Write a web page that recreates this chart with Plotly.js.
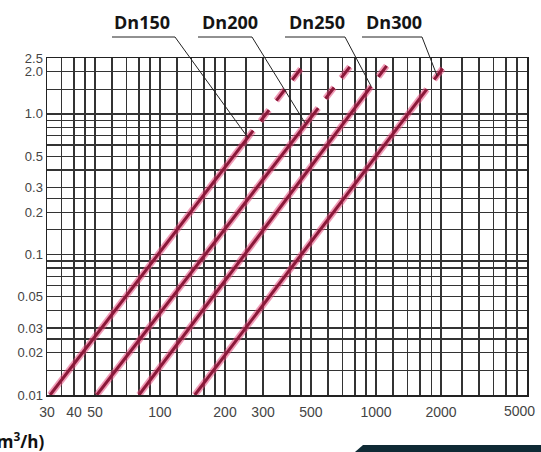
<!DOCTYPE html>
<html>
<head>
<meta charset="utf-8">
<script src="https://cdn.plot.ly/plotly-3.0.1.min.js"></script>
<style>html,body{margin:0;padding:0;background:#fff;}#chart{width:541px;height:452px;}</style>
</head>
<body>
<div id="chart"></div>
<script>
// ---- data ----
const seriesNames   = ['Dn150', 'Dn200', 'Dn250', 'Dn300'];
const flowStart     = [31, 51, 80, 145];          // m3/h at bottom (0.01)
const dpStart       = [0.01, 0.01, 0.01, 0.01];
const flowSolidEnd  = [270, 540, 950, 1720];      // end of solid part
const dpSolidEnd    = [0.76, 1.1, 1.57, 1.5];
const flowDashEnd   = [460, 780, 1120, 2080];     // end of dashed part
const dpDashEnd     = [2.2, 2.3, 2.2, 2.2];
const pointerFlow   = [255, 470, 950, 1920];      // where label leader meets line
const pointerDp     = [0.68, 0.86, 1.57, 1.86];

const xGrid = [30,35,40,45,50,60,70,80,90,100,120,140,160,180,200,250,300,400,450,500,
               600,700,800,900,1000,1200,1400,1600,1800,2000,2500,3000,3500,4000,4500,5000];
const xLabelVals = [30,40,50,100,200,300,500,1000,2000];
const xLabelText = ['30','40','50','100','200','300','500','1000','2000'];
const xEdgeLabelVal = 5000, xEdgeLabelText = '5000';   // drawn as annotation so it stays inside
const yGrid = [0.01,0.015,0.02,0.025,0.03,0.04,0.05,0.06,0.07,0.08,0.09,0.1,0.15,0.2,0.25,
               0.3,0.4,0.5,0.6,0.7,0.8,0.9,1,1.5,2,2.5];
const yLabelVals = [0.01,0.02,0.03,0.05,0.1,0.2,0.3,0.5,1,2,2.5];
const yLabelText = ['0.01','0.02','0.03','0.05','0.1','0.2','0.3','0.5','1.0','2.0','2.5'];

// ---- layout geometry ----
const M = {l:47, r:14, t:58, b:57};
const W = 541 - M.l - M.r, H = 452 - M.t - M.b;
const XR = [Math.log10(30), Math.log10(5000)];
const YR = [-2, Math.log10(2.5)];
const pX = p => (p - M.l) / W;            // pixel -> paper
const pY = p => (M.t + H - p) / H;
const dX = q => (Math.log10(q) - XR[0]) / (XR[1] - XR[0]);   // data -> paper (for leaders)
const dY = v => (Math.log10(v) - YR[0]) / (YR[1] - YR[0]);

const halo = 'rgba(228,72,122,0.55)';
const core = '#8c1839';
const dashPat = '0px,12px,14px,0px';
const traces = [];
seriesNames.forEach((n, i) => {
  const solidX = [flowStart[i], flowSolidEnd[i]], solidY = [dpStart[i], dpSolidEnd[i]];
  const dashX = [flowSolidEnd[i], flowDashEnd[i]], dashY = [dpSolidEnd[i], dpDashEnd[i]];
  traces.push({x: solidX, y: solidY, mode:'lines', name:n, line:{color:halo, width:6.5}, hoverinfo:'skip'});
  traces.push({x: dashX, y: dashY, mode:'lines', name:n, line:{color:halo, width:6.5, dash:dashPat}, hoverinfo:'skip'});
  traces.push({x: solidX, y: solidY, mode:'lines', name:n, line:{color:core, width:3}});
  traces.push({x: dashX, y: dashY, mode:'lines', name:n, line:{color:core, width:3, dash:dashPat}});
});

// label positions (pixels) and leader bends
const labelCx   = [142, 230, 317, 394];
const underL    = [112, 198, 285, 362];
const underR    = [175, 252, 345, 422];
const underY    = 37;

const tickFont = {family:'Liberation Sans Narrow, Liberation Sans, Arial, sans-serif', size:14, color:'#444'};
const annotations = seriesNames.map((n, i) => ({
  text: n, xref:'paper', yref:'paper', x: pX(labelCx[i]), y: pY(22),
  xanchor:'center', yanchor:'middle', showarrow:false,
  font:{family:'Open Sans, DejaVu Sans, sans-serif', size:18, color:'#151515', weight:700}
}));
annotations.push({
  text:'(m<sup>3</sup>/h)', xref:'paper', yref:'paper', x: pX(46), y: pY(440),
  xanchor:'right', yanchor:'middle', showarrow:false,
  font:{family:'Open Sans, DejaVu Sans, sans-serif', size:17, color:'#111', weight:700}
});
annotations.push({
  text: xEdgeLabelText, xref:'x', yref:'paper', x: Math.log10(xEdgeLabelVal), y: pY(401),
  xanchor:'center', yanchor:'top', xshift:-8, showarrow:false, font: tickFont
});

const shapes = seriesNames.map((n, i) => ({
  type:'path', xref:'paper', yref:'paper',
  path:`M ${pX(underL[i])},${pY(underY)} L ${pX(underR[i])},${pY(underY)} L ${dX(pointerFlow[i])},${dY(pointerDp[i])}`,
  line:{color:'#222', width:1}, layer:'above'
}));
shapes.push({
  type:'path', xref:'paper', yref:'paper',
  path:`M ${pX(355)},${pY(452)} L ${pX(363)},${pY(445)} L ${pX(541)},${pY(445)} L ${pX(541)},${pY(452)} Z`,
  fillcolor:'#0f2a35', line:{width:0}
});

const axisCommon = {
  type:'log', showgrid:true, gridcolor:'#333', gridwidth:1.3, zeroline:false,
  showline:true, mirror:true, linecolor:'#222', linewidth:1.5, ticks:'',
  tickmode:'array', fixedrange:true
};
const layout = {
  width:541, height:452, margin:{l:M.l, r:M.r, t:M.t, b:M.b, pad:0},
  paper_bgcolor:'#fff', plot_bgcolor:'#fff', showlegend:false,
  xaxis: Object.assign({}, axisCommon, {
    range: XR, tickvals: xGrid,
    ticktext: xGrid.map(v => { const k = xLabelVals.indexOf(v); return k >= 0 ? xLabelText[k] : ''; }),
    tickfont: tickFont,
    ticklabelstandoff: 4
  }),
  yaxis: Object.assign({}, axisCommon, {
    range: YR, tickvals: yGrid,
    ticktext: yGrid.map(v => { const k = yLabelVals.indexOf(v); return k >= 0 ? yLabelText[k] : ''; }),
    tickfont: Object.assign({}, tickFont, {size:13})
  }),
  annotations, shapes
};
Plotly.newPlot('chart', traces, layout, {displayModeBar:false, staticPlot:true});
</script>
</body>
</html>
